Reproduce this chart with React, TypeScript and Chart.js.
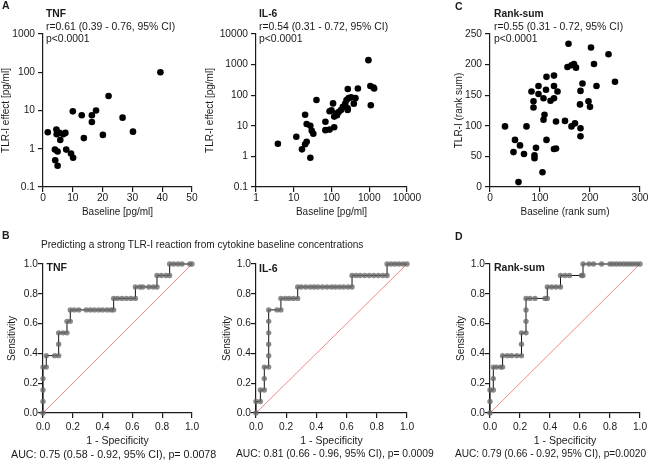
import React, { useEffect, useRef } from "react";
import { Chart, registerables } from "chart.js";
Chart.register(...registerables);

const FONT = '"Liberation Sans", Arial, Helvetica, sans-serif';
const INK = "#1a1a1a";

// ---------- Panel A: TNF scatter ----------
const tnfBaseline = [39.4, 22, 10, 13, 17.8, 16.4, 16.4, 26.7, 30.2, 20.1, 13.7, 1.6, 4.5, 4.6, 5.5, 6.8, 7.5, 5.8, 4.0, 4.9, 7.8, 9.4, 10.1, 4.1, 4.9];
const tnfEffect = [100, 24, 9.5, 7.5, 10, 7.5, 5, 6.5, 2.8, 2.3, 1.9, 2.7, 3.2, 2.4, 2.6, 2.4, 2.6, 1.7, 0.95, 0.85, 0.95, 0.75, 0.58, 0.5, 0.36];
const tnfXTicks = [0, 10, 20, 30, 40, 50];
const tnfYTicks = [0.1, 1, 10, 100, 1000];

// ---------- Panel A: IL-6 scatter ----------
const il6Baseline = [950, 1070, 1300, 1350, 1100, 500, 270, 40, 20, 3.8, 11.7, 27.5, 16.5, 20, 22, 22, 27.5, 30, 33, 69, 69, 89, 118, 89, 100, 110, 118, 135, 155, 178, 200, 232, 250, 285, 330, 430, 390, 268, 268, 140];
const il6Effect = [1400, 200, 178, 165, 47, 165, 160, 70, 23, 2.6, 4.4, 0.9, 1.7, 2.5, 3, 11.4, 10, 6.9, 5.5, 13.6, 7.2, 7.5, 9, 30, 32, 54, 20, 25, 28, 33, 42, 53, 70, 80, 85, 80, 53, 37, 33, 22];
const il6XTicks = [1, 10, 100, 1000, 10000];
const il6YTicks = [0.1, 1, 10, 100, 1000, 10000];

// ---------- Panel C: rank-sum scatter ----------
const rankBaseline = [157, 202, 237, 208, 155, 163, 168, 172, 250, 213, 185, 181, 180, 197, 200, 181, 181, 150, 170, 163, 113, 128, 97, 128, 135, 83, 97, 112, 107, 121, 128, 87, 87, 109, 107, 132, 30, 73, 50, 113, 47, 60, 68, 92, 89, 89, 132, 128, 105, 57];
const rankEffect = [234, 228, 217, 201, 196, 199, 201, 195, 172, 165, 169, 157, 135, 140, 131, 96, 83, 108, 104, 99, 180, 182, 165, 165, 156, 156, 152, 159, 145, 141, 145, 140, 130, 118, 110, 107, 99, 99, 77, 77, 57, 68, 54, 64, 52, 47, 63, 62, 24, 8];
const rankXTicks = [0, 100, 200, 300];
const rankYTicks = [0, 50, 100, 150, 200, 250];

// ---------- ROC curves (1 - specificity, sensitivity) ----------
const rocTicks = [0, 0.2, 0.4, 0.6, 0.8, 1];

const rocTnfFpr = [
  0, 0, 0, 0, 0, 0.022, 0.022, 0.078, 0.105, 0.105, 0.105, 0.134, 0.161, 0.161, 0.183, 0.183,
  0.21, 0.24, 0.29, 0.318, 0.345, 0.374, 0.4, 0.43, 0.456, 0.474, 0.474, 0.5, 0.53, 0.56, 0.59, 0.62,
  0.62, 0.65, 0.67, 0.71, 0.74, 0.765, 0.765, 0.794, 0.825, 0.85, 0.85, 0.877, 0.906, 0.933, 0.985, 1,
];
const rocTnfTpr = [
  0, 0.077, 0.154, 0.231, 0.308, 0.308, 0.385, 0.385, 0.385, 0.462, 0.538, 0.538, 0.538, 0.615, 0.615, 0.692,
  0.692, 0.692, 0.692, 0.692, 0.692, 0.692, 0.692, 0.692, 0.692, 0.692, 0.769, 0.769, 0.769, 0.769, 0.769, 0.769,
  0.846, 0.846, 0.846, 0.846, 0.846, 0.846, 0.923, 0.923, 0.923, 0.923, 1, 1, 1, 1, 1, 1,
];

const rocIl6Fpr = [
  0, 0, 0.029, 0.029, 0.055, 0.055, 0.055, 0.084, 0.084, 0.084, 0.084, 0.084, 0.084, 0.139, 0.165, 0.165,
  0.194, 0.22, 0.248, 0.276, 0.276, 0.3, 0.33, 0.36, 0.385, 0.41, 0.44, 0.47, 0.5, 0.525, 0.553, 0.58,
  0.61, 0.636, 0.636, 0.663, 0.69, 0.72, 0.75, 0.78, 0.81, 0.84, 0.868, 0.868, 0.894, 0.92, 0.947, 0.975, 1,
];
const rocIl6Tpr = [
  0, 0.077, 0.077, 0.154, 0.154, 0.231, 0.308, 0.308, 0.385, 0.462, 0.538, 0.615, 0.692, 0.692, 0.692, 0.769,
  0.769, 0.769, 0.769, 0.769, 0.846, 0.846, 0.846, 0.846, 0.846, 0.846, 0.846, 0.846, 0.846, 0.846, 0.846, 0.846,
  0.846, 0.846, 0.923, 0.923, 0.923, 0.923, 0.923, 0.923, 0.923, 0.923, 0.923, 1, 1, 1, 1, 1, 1,
];

const rocRankFpr = [
  0, 0, 0, 0.022, 0.022, 0.022, 0.044, 0.071, 0.084, 0.084, 0.116, 0.144, 0.178, 0.21, 0.21, 0.21,
  0.24, 0.24, 0.24, 0.24, 0.267, 0.3, 0.367, 0.382, 0.382, 0.411, 0.44, 0.47, 0.47, 0.5, 0.53, 0.61,
  0.62, 0.62, 0.66, 0.69, 0.744, 0.8, 0.822, 0.844, 0.867, 0.889, 0.911, 0.933, 0.955, 0.978, 1,
];
const rocRankTpr = [
  0, 0.077, 0.154, 0.154, 0.231, 0.308, 0.308, 0.308, 0.308, 0.385, 0.385, 0.385, 0.385, 0.385, 0.462, 0.538,
  0.538, 0.615, 0.692, 0.769, 0.769, 0.769, 0.769, 0.769, 0.846, 0.846, 0.846, 0.846, 0.923, 0.923, 0.923, 0.923,
  0.923, 1, 1, 1, 1, 1, 1, 1, 1, 1, 1, 1, 1, 1, 1,
];

// ---------- helpers ----------
type TextItem = { text: string; x: number; y: number; size: number; bold?: boolean };

function makeAnnot(items: TextItem[]) {
  return {
    id: "annot",
    afterDraw(chart: any) {
      const ctx = chart.ctx;
      items.forEach((t) => {
        ctx.save();
        ctx.font = `${t.bold ? "bold " : ""}${t.size}px ${FONT}`;
        ctx.fillStyle = INK;
        ctx.textAlign = "left";
        ctx.textBaseline = "middle";
        ctx.fillText(t.text, t.x, t.y);
        ctx.restore();
      });
    },
  };
}

type AxisOpts = {
  kind: "x" | "y";
  type: "linear" | "logarithmic";
  min: number;
  max: number;
  ticks: number[];
  fmt: (v: number) => string;
  title: string;
  titleSize: number;
  titlePad: number;
  size: number;
  tickLen: number;
  tickPad: number;
  tickSize: number;
};

function makeAxis(o: AxisOpts) {
  return {
    type: o.type,
    position: o.kind === "x" ? "bottom" : "left",
    min: o.min,
    max: o.max,
    afterBuildTicks: (s: any) => {
      s.ticks = o.ticks.map((v) => ({ value: v }));
    },
    afterFit: (s: any) => {
      if (o.kind === "x") s.height = o.size;
      else s.width = o.size;
    },
    ticks: {
      autoSkip: false,
      maxRotation: 0,
      minRotation: 0,
      padding: o.tickPad,
      color: INK,
      font: { family: FONT, size: o.tickSize },
      callback: (v: any) => o.fmt(Number(v)),
    },
    grid: {
      display: true,
      drawOnChartArea: false,
      drawTicks: true,
      tickLength: o.tickLen,
      color: INK,
      lineWidth: 1.2,
    },
    border: { display: true, color: INK, width: 1.2 },
    title: {
      display: true,
      text: o.title,
      color: INK,
      font: { family: FONT, size: o.titleSize },
      padding: o.kind === "x" ? { top: 0, bottom: o.titlePad } : { top: o.titlePad, bottom: 0 },
    },
  };
}

const baseOptions = (padding: any, scales: any) => ({
  responsive: false,
  animation: false,
  devicePixelRatio: 1,
  events: [],
  layout: { padding },
  plugins: { legend: { display: false }, tooltip: { enabled: false }, title: { display: false } },
  scales,
});

function scatterConfig(xs: number[], ys: number[], x: any, y: any, padding: any, items: TextItem[]) {
  return {
    type: "scatter",
    data: {
      datasets: [
        {
          data: xs.map((v, i) => ({ x: v, y: ys[i] })),
          pointRadius: 3.3,
          pointHoverRadius: 3.3,
          backgroundColor: "#000",
          borderColor: "#000",
          borderWidth: 0,
          clip: false,
        },
      ],
    },
    options: baseOptions(padding, { x, y }),
    plugins: [makeAnnot(items)],
  };
}

function rocConfig(fpr: number[], tpr: number[], x: any, y: any, padding: any, items: TextItem[]) {
  return {
    type: "line",
    data: {
      datasets: [
        {
          data: fpr.map((v, i) => ({ x: v, y: tpr[i] })),
          borderColor: "#111",
          borderWidth: 1,
          pointRadius: 2.7,
          pointHoverRadius: 2.7,
          pointBackgroundColor: "rgba(105,105,105,0.78)",
          pointBorderWidth: 0,
          tension: 0,
          fill: false,
          clip: false,
        },
        {
          data: [
            { x: 0, y: 0 },
            { x: 1, y: 1 },
          ],
          borderColor: "rgba(240,105,105,0.8)",
          borderWidth: 1,
          pointRadius: 0,
          fill: false,
          clip: false,
        },
      ],
    },
    options: baseOptions(padding, { x, y }),
    plugins: [makeAnnot(items)],
  };
}

const fmtPlain = (v: number) => String(v);
const fmtOne = (v: number) => v.toFixed(1);

function Panel({ left, top, width, height, make }: { left: number; top: number; width: number; height: number; make: () => any }) {
  const ref = useRef<HTMLCanvasElement | null>(null);
  useEffect(() => {
    if (!ref.current) return;
    const chart = new Chart(ref.current, make());
    return () => chart.destroy();
  }, []);
  return (
    <canvas
      ref={ref}
      width={width}
      height={height}
      style={{ position: "absolute", left, top, width, height, display: "block" }}
    />
  );
}

function Label({ text, left, cy, size, bold }: { text: string; left: number; cy: number; size: number; bold?: boolean }) {
  return (
    <div
      style={{
        position: "absolute",
        left,
        top: cy - size / 2,
        fontFamily: FONT,
        fontSize: size,
        lineHeight: `${size}px`,
        fontWeight: bold ? "bold" : "normal",
        color: INK,
        whiteSpace: "nowrap",
      }}
    >
      {text}
    </div>
  );
}

const scatterX = (ticks: number[], type: any, min: number, max: number, title: string) =>
  makeAxis({ kind: "x", type, min, max, ticks, fmt: fmtPlain, title, titleSize: 10, titlePad: 0, size: 31, tickLen: 5, tickPad: 0, tickSize: 10.2 });
const scatterY = (ticks: number[], type: any, min: number, max: number, title: string, w: number, pad: number) =>
  makeAxis({ kind: "y", type, min, max, ticks, fmt: fmtPlain, title, titleSize: 10, titlePad: pad, size: w, tickLen: 5, tickPad: 3, tickSize: 10.2 });
const rocX = () =>
  makeAxis({ kind: "x", type: "linear", min: 0, max: 1, ticks: rocTicks, fmt: fmtOne, title: "1 - Specificity", titleSize: 10.5, titlePad: 0, size: 34, tickLen: 5, tickPad: 3, tickSize: 10.2 });
const rocY = (w: number, pad: number) =>
  makeAxis({ kind: "y", type: "linear", min: 0, max: 1, ticks: rocTicks, fmt: fmtOne, title: "Sensitivity", titleSize: 10, titlePad: pad, size: w, tickLen: 5, tickPad: 0, tickSize: 10.2 });

const titleItems = (x: number, name: string, r: string): TextItem[] => [
  { text: name, x, y: 14.5, size: 10.3, bold: true },
  { text: r, x, y: 27, size: 10.4 },
  { text: "p<0.0001", x, y: 38.7, size: 10.4 },
];

export default function App() {
  return (
    <div style={{ position: "absolute", left: 0, top: 0, width: 651, height: 463, overflow: "hidden", background: "#fff" }}>
      <Panel
        left={0}
        top={0}
        width={210}
        height={228}
        make={() =>
          scatterConfig(
            tnfBaseline,
            tnfEffect,
            scatterX(tnfXTicks, "linear", 0, 50, "Baseline [pg/ml]"),
            scatterY(tnfYTicks, "logarithmic", 0.1, 1000, "TLR-I effect [pg/ml]", 43, 0),
            { left: 0, top: 34, right: 18, bottom: 10 },
            titleItems(46, "TNF", "r=0.61 (0.39 - 0.76, 95% CI)")
          )
        }
      />
      <Panel
        left={204}
        top={0}
        width={226}
        height={228}
        make={() =>
          scatterConfig(
            il6Baseline,
            il6Effect,
            scatterX(il6XTicks, "logarithmic", 1, 10000, "Baseline [pg/ml]"),
            scatterY(il6YTicks, "logarithmic", 0.1, 10000, "TLR-I effect [pg/ml]", 52, 0),
            { left: 0, top: 34, right: 23, bottom: 10 },
            titleItems(55, "IL-6", "r=0.54 (0.31 - 0.72, 95% CI)")
          )
        }
      />
      <Panel
        left={450}
        top={0}
        width={201}
        height={228}
        make={() =>
          scatterConfig(
            rankBaseline,
            rankEffect,
            scatterX(rankXTicks, "linear", 0, 300, "Baseline (rank sum)"),
            scatterY(rankYTicks, "linear", 0, 250, "TLR-I (rank sum)", 40, 3.5),
            { left: 0, top: 34, right: 11, bottom: 10 },
            titleItems(44, "Rank-sum", "r=0.55 (0.31 - 0.72, 95% CI)")
          )
        }
      />
      <Panel
        left={0}
        top={232}
        width={210}
        height={231}
        make={() =>
          rocConfig(rocTnfFpr, rocTnfTpr, rocX(), rocY(43, 6), { left: 0, top: 32, right: 18, bottom: 16 }, [
            { text: "TNF", x: 46.5, y: 36.5, size: 10.5, bold: true },
          ])
        }
      />
      <Panel
        left={210}
        top={232}
        width={220}
        height={231}
        make={() =>
          rocConfig(rocIl6Fpr, rocIl6Tpr, rocX(), rocY(46, 11), { left: 0, top: 32, right: 23, bottom: 16 }, [
            { text: "IL-6", x: 49, y: 37, size: 10.5, bold: true },
          ])
        }
      />
      <Panel
        left={440}
        top={232}
        width={211}
        height={231}
        make={() =>
          rocConfig(rocRankFpr, rocRankTpr, rocX(), rocY(50, 15), { left: 0, top: 32, right: 11, bottom: 16 }, [
            { text: "Rank-sum", x: 54, y: 36, size: 10.5, bold: true },
          ])
        }
      />
      <Label text="A" left={2} cy={5.5} size={10.5} bold />
      <Label text="B" left={2} cy={235} size={10.5} bold />
      <Label text="C" left={455} cy={6.3} size={10.5} bold />
      <Label text="D" left={455} cy={236.3} size={10.5} bold />
      <Label text="Predicting a strong TLR-I reaction from cytokine baseline concentrations" left={41} cy={245} size={10.1} />
      <Label text="AUC: 0.75 (0.58 - 0.92, 95% CI), p= 0.0078" left={11} cy={454} size={10.7} />
      <Label text="AUC: 0.81 (0.66 - 0.96, 95% CI), p= 0.0009" left={236} cy={454} size={10.3} />
      <Label text="AUC: 0.79 (0.66 - 0.92, 95% CI), p=0.0020" left={455} cy={454} size={10.1} />
    </div>
  );
}
